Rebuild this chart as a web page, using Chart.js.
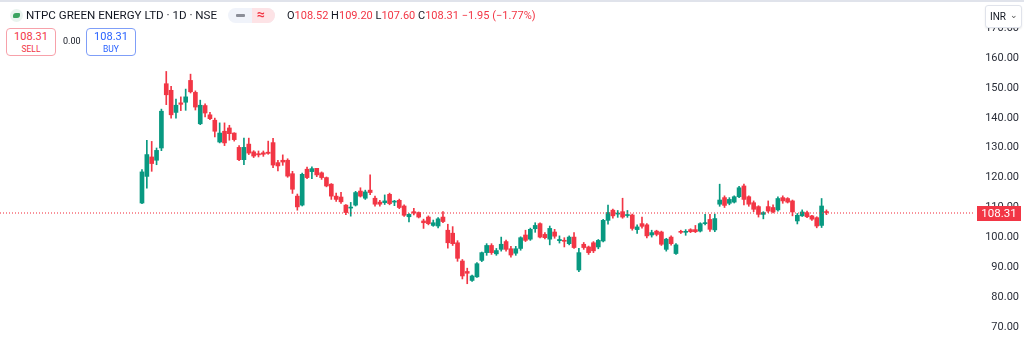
<!DOCTYPE html>
<html>
<head>
<meta charset="utf-8">
<script src="https://cdn.jsdelivr.net/npm/chart.js@4.4.0/dist/chart.umd.min.js"></script>
<style>
  html, body { margin: 0; padding: 0; background: #fff; }
  body { width: 1024px; height: 351px; position: relative; overflow: hidden; font-family: Roboto, "Liberation Sans", sans-serif; color: #131722; }
  #wrap { position: absolute; left: 0; top: 0; width: 1024px; height: 351px; }
  .topline { position: absolute; left: 0; top: 0; width: 1024px; height: 2px; background: #e0e3eb; }
  .hdr { position: absolute; left: 0; top: 0; }
  .logo { position: absolute; left: 10px; top: 9px; width: 13px; height: 13px; border-radius: 50%; background: #e9f3ee; }
  .logo:after { content: ""; position: absolute; left: 3px; top: 4px; width: 7px; height: 5px; border-radius: 3px 1px; background: #3aa35f; }
  .sym { position: absolute; left: 26px; top: 8px; font-size: 11.6px; white-space: nowrap; }
  .pill { position: absolute; left: 228px; top: 8px; width: 47px; height: 15px; border-radius: 8px; background: #f0f3fa; overflow: hidden; }
  .pill .r { position: absolute; left: 24px; top: 0; width: 23px; height: 15px; background: #fde3e6; }
  .pill .dash { position: absolute; left: 8px; top: 6px; width: 9px; height: 3px; border-radius: 1px; background: #8b8e98; }
  .pill .eq { position: absolute; left: 29px; top: -2px; font-size: 14px; color: #f23645; font-weight: bold; }
  .ohlc { position: absolute; left: 287px; top: 9px; font-size: 11px; white-space: nowrap; }
  .ohlc b { font-weight: normal; color: #f23645; }
  .btn { position: absolute; top: 28px; width: 48px; height: 26px; border-radius: 4px; text-align: center; background: #fff; }
  .btn .p { font-size: 11px; line-height: 12px; margin-top: 2px; }
  .btn .t { font-size: 8.5px; line-height: 10px; margin-top: 1px; }
  .sell { left: 6px; border: 1px solid #f7a1aa; color: #f23645; }
  .buy { left: 86px; border: 1px solid #7f9ef8; color: #2962ff; }
  .spread { position: absolute; left: 63px; top: 36px; font-size: 9px; }
  .cur { position: absolute; left: 985px; top: 5px; width: 35px; height: 21px; border: 1px solid #e0e3eb; border-radius: 3px; background: #fff; box-shadow: 0 1px 2px rgba(0,0,0,0.08); font-size: 10px; line-height: 21px; }
  .cur span { position: absolute; left: 4px; }
  .cur i { position: absolute; right: 3px; top: -1px; font-style: normal; font-size: 9px; color: #555; }
</style>
</head>
<body>
<div id="wrap"><canvas id="myChart" width="1024" height="351"></canvas></div>
<div class="topline"></div>
<div class="hdr">
  <div class="logo"></div>
  <div class="sym">NTPC GREEN ENERGY LTD · 1D · NSE</div>
  <div class="pill"><div class="r"></div><div class="dash"></div><div class="eq">≈</div></div>
  <div class="ohlc">O<b>108.52</b> H<b>109.20</b> L<b>107.60</b> C<b>108.31</b> <b>−1.95 (−1.77%)</b></div>
  <div class="btn sell"><div class="p">108.31</div><div class="t">SELL</div></div>
  <div class="spread">0.00</div>
  <div class="btn buy"><div class="p">108.31</div><div class="t">BUY</div></div>
</div>
<div class="cur"><span>INR</span><i>&#8964;</i></div>
<script>
const ctx = document.getElementById('myChart');

const opens = [111.5, 120.4, 126.9, 125.8, 129.9, 151.4, 149.2, 141.8, 145.0, 145.2,
  152.5, 148.5, 138.0, 144.1, 141.0, 139.2, 131.9, 135.5, 136.6, 134.9,
  130.1, 126.0, 131.2, 128.6, 128.0, 128.3, 128.5, 131.7, 125.0, 125.8,
  125.8, 121.3, 113.8, 110.8, 122.8, 122.0, 123.1, 121.6, 120.0, 117.8,
  113.8, 113.5, 110.8, 109.8, 110.8, 115.5, 113.1, 115.8, 113.1, 111.8,
  111.6, 114.4, 111.8, 112.4, 110.5, 106.9, 108.6, 108.3, 105.5, 106.8,
  104.0, 103.8, 106.8, 102.4, 101.4, 98.2, 92.1, 88.6, 85.6, 86.8,
  92.3, 94.9, 97.3, 94.5, 96.0, 98.6, 96.2, 94.7, 96.3, 100.8,
  99.4, 102.9, 104.6, 101.0, 99.4, 101.8, 98.9, 99.0, 97.9, 100.1,
  89.1, 97.7, 96.8, 98.2, 96.8, 98.8, 105.7, 109.1, 107.8, 108.6,
  107.3, 107.5, 102.6, 104.6, 104.2, 100.8, 102.1, 101.8, 96.0, 100.1,
  94.6, 102.0, 101.7, 102.6, 102.6, 102.1, 104.6, 106.0, 102.5, 111.1,
  113.3, 111.4, 111.8, 113.6, 117.2, 113.6, 111.6, 110.3, 107.7, 110.3,
  110.0, 109.2, 113.3, 113.0, 112.2, 105.5, 107.2, 108.3, 107.2, 106.6,
  104.0, 108.52];
const highs = [122.7, 132.5, 132.1, 129.9, 142.9, 155.5, 150.5, 146.3, 147.0, 149.6,
  154.6, 149.0, 145.9, 144.7, 141.8, 139.9, 138.3, 138.3, 137.5, 135.0,
  130.7, 133.2, 133.2, 129.0, 128.9, 128.9, 132.2, 133.1, 125.8, 127.6,
  126.3, 122.1, 114.5, 121.5, 123.5, 123.6, 123.1, 121.9, 120.2, 118.0,
  114.8, 115.1, 111.0, 111.7, 115.4, 116.6, 115.8, 120.9, 113.8, 112.4,
  114.2, 114.8, 112.4, 112.8, 110.9, 108.0, 109.7, 108.5, 106.1, 107.2,
  105.8, 106.6, 108.6, 104.4, 103.6, 98.9, 92.6, 89.7, 87.4, 91.6,
  95.1, 97.9, 97.9, 96.3, 100.1, 99.1, 97.0, 97.0, 100.2, 102.4,
  103.1, 104.9, 104.9, 101.6, 103.8, 102.7, 100.5, 99.9, 100.5, 101.6,
  96.3, 98.3, 97.1, 98.6, 99.3, 106.0, 110.8, 109.5, 109.0, 113.1,
  109.0, 107.8, 104.2, 106.8, 104.6, 102.4, 102.4, 102.1, 99.7, 100.5,
  97.9, 102.4, 102.6, 102.9, 104.0, 104.9, 107.7, 107.7, 107.8, 117.8,
  113.9, 113.3, 113.9, 117.1, 117.8, 113.9, 112.2, 110.6, 108.6, 112.2,
  110.9, 113.6, 113.9, 113.3, 112.5, 108.0, 109.2, 108.8, 107.4, 106.9,
  113.0, 109.20];
const lows = [111.3, 116.5, 122.1, 124.3, 129.0, 144.4, 139.9, 139.9, 142.4, 142.5,
  148.3, 142.6, 137.7, 140.3, 139.4, 133.6, 131.6, 130.7, 132.5, 132.2,
  125.7, 124.3, 127.7, 126.7, 126.9, 127.1, 127.8, 123.3, 122.2, 124.1,
  120.1, 114.7, 109.1, 110.5, 119.6, 119.6, 120.3, 119.4, 116.9, 112.7,
  112.0, 111.4, 107.6, 107.1, 110.5, 113.5, 112.7, 114.3, 110.4, 110.4,
  111.0, 110.9, 110.6, 109.6, 107.0, 105.2, 107.5, 106.5, 103.0, 104.2,
  103.7, 103.2, 104.9, 96.4, 97.3, 92.0, 86.1, 84.5, 85.3, 86.6,
  91.9, 94.0, 94.3, 94.0, 95.4, 95.4, 93.4, 94.0, 95.7, 98.6,
  99.0, 101.7, 99.8, 99.5, 97.5, 99.7, 98.1, 96.8, 97.5, 96.3,
  88.5, 96.0, 94.3, 94.9, 96.2, 98.5, 104.4, 106.4, 106.7, 106.4,
  106.7, 102.4, 101.3, 103.1, 99.8, 100.1, 100.5, 97.3, 95.4, 97.4,
  94.3, 101.3, 100.7, 101.6, 101.6, 101.8, 104.2, 102.0, 101.9, 110.4,
  110.0, 110.9, 111.5, 113.3, 110.9, 110.4, 108.6, 106.8, 106.2, 108.3,
  108.2, 108.8, 111.4, 111.5, 107.2, 104.5, 107.0, 106.6, 105.7, 103.2,
  103.3, 107.60];
const closes = [121.9, 127.7, 124.7, 129.1, 142.2, 147.7, 141.0, 144.2, 144.5, 147.0,
  148.7, 143.6, 144.2, 141.6, 139.7, 135.5, 134.9, 131.6, 134.7, 132.7,
  126.0, 130.1, 128.2, 127.2, 127.6, 127.8, 128.1, 124.2, 123.9, 125.2,
  120.5, 116.1, 110.2, 121.1, 120.0, 123.0, 120.9, 120.0, 117.2, 113.8,
  112.7, 111.9, 108.3, 110.0, 115.0, 113.8, 115.2, 115.0, 111.1, 111.1,
  112.2, 111.3, 112.0, 110.0, 107.4, 107.7, 108.1, 106.8, 104.9, 104.6,
  104.9, 106.2, 105.3, 98.2, 97.9, 93.0, 87.1, 88.0, 87.1, 91.2,
  94.9, 97.3, 94.9, 95.6, 97.7, 96.0, 94.1, 96.2, 99.9, 99.0,
  102.7, 104.0, 100.1, 99.9, 103.0, 100.4, 99.3, 98.7, 100.1, 96.6,
  94.9, 96.6, 94.9, 95.5, 99.0, 105.7, 108.3, 107.2, 108.1, 106.8,
  107.5, 103.0, 103.5, 103.7, 100.5, 101.6, 101.0, 97.7, 99.4, 97.9,
  97.5, 101.7, 102.0, 101.9, 101.9, 104.6, 104.9, 102.7, 106.3, 112.5,
  110.7, 112.7, 113.6, 116.6, 112.7, 111.1, 109.4, 107.7, 108.3, 108.8,
  108.5, 113.0, 112.2, 111.8, 108.5, 107.4, 108.5, 106.9, 106.1, 103.8,
  110.5, 108.31];

const priceTicks = [70, 80, 90, 100, 110, 120, 130, 140, 150, 160, 170];
const lastPrice = 108.31;

const up = '#089981';
const down = '#f23645';
const colors = opens.map((o, i) => closes[i] >= o ? up : down);

// dotted last-price line + price label on the axis
const priceLine = {
  id: 'priceLine',
  afterDraw(chart) {
    const c = chart.ctx;
    const a = chart.chartArea;
    const y = Math.round(chart.scales.y.getPixelForValue(lastPrice));
    c.save();
    c.fillStyle = 'rgba(242, 54, 69, 0.55)';
    for (let x = Math.round(a.left); x < a.right; x += 3) {
      c.fillRect(x, y - 1, 1, 2);
    }
    c.fillStyle = down;
    c.fillRect(a.right + 2, y - 7, 44, 15);
    c.fillStyle = '#fff';
    c.font = '11.5px Roboto';
    c.textAlign = 'center';
    c.textBaseline = 'middle';
    c.fillText(lastPrice.toFixed(2), a.right + 24, y + 1);
    c.restore();
  }
};

new Chart(ctx, {
  type: 'bar',
  data: {
    datasets: [{
      label: 'body',
      data: opens.map((o, i) => ({ x: i, y: [o, closes[i]] })),
      backgroundColor: colors,
      barThickness: 4,
      minBarLength: 1,
      grouped: false,
      order: 1
    }, {
      label: 'wick',
      data: lows.map((l, i) => ({ x: i, y: [l, highs[i]] })),
      backgroundColor: colors,
      barThickness: 1,
      grouped: false,
      order: 2
    }]
  },
  options: {
    responsive: false,
    animation: false,
    layout: { padding: { left: 0, right: 5, top: 0, bottom: 0 } },
    plugins: { legend: { display: false }, tooltip: { enabled: false } },
    scales: {
      x: {
        type: 'linear',
        offset: false,
        min: -29.25,
        max: 171.6,
        display: false
      },
      y: {
        position: 'right',
        min: 62.0,
        max: 179.4,
        grid: { display: false, drawTicks: false },
        border: { display: false },
        afterBuildTicks: (scale) => { scale.ticks = priceTicks.map(v => ({ value: v })); },
        afterFit: (scale) => { scale.width = 44; scale.paddingTop = 0; scale.paddingBottom = 0; },
        ticks: {
          crossAlign: 'far',
          color: '#2a2e39',
          font: { family: 'Roboto', size: 11 },
          callback: (v) => Number(v).toFixed(2)
        }
      }
    }
  },
  plugins: [priceLine]
});
</script>
</body>
</html>
